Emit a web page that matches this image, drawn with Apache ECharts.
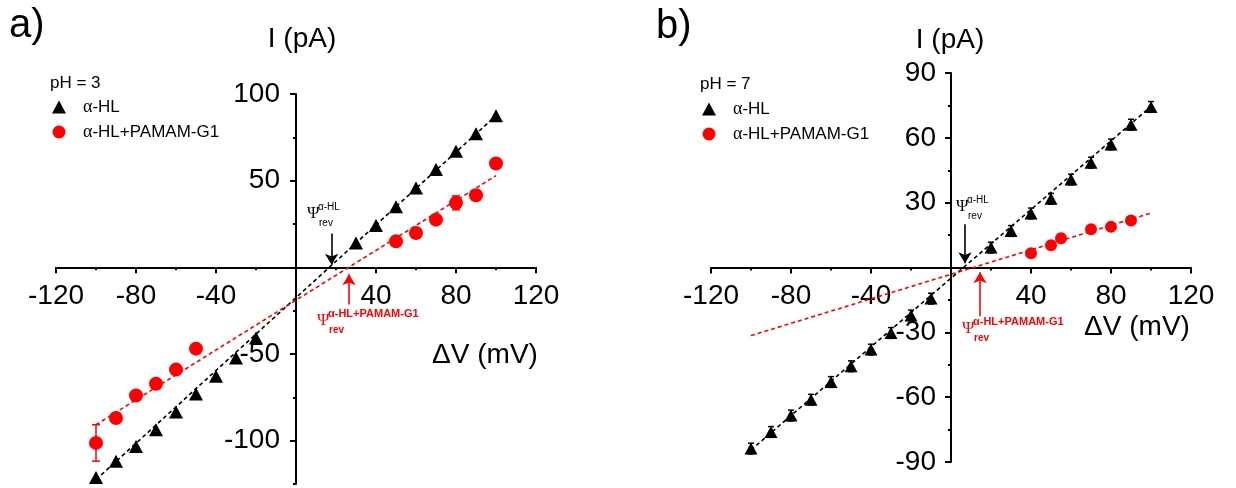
<!DOCTYPE html>
<html>
<head>
<meta charset="utf-8">
<script src="https://cdn.jsdelivr.net/npm/echarts@6/dist/echarts.min.js"></script>
<style>
html, body { margin: 0; padding: 0; background: #fff; }
#chart { width: 1236px; height: 488px; }
</style>
</head>
<body>
<div id="chart"></div>
<script>
// panel a) pH = 3
const vA_hl = [-100, -90, -80, -70, -60, -50, -40, -30, -20, 30, 40, 50, 60, 70, 80, 90, 100];
const iA_hl = [-121.3, -111.9, -103.3, -93.7, -83.4, -73.1, -62.9, -52.3, -40.7, 14.1, 24.2, 34.9, 45.8, 56.4, 66.9, 77.1, 87.5];
const eA_hl = [3, 3, 3, 3, 3, 3, 3, 3, 3, 3, 3, 3, 3, 3, 3, 3, 3];
const vA_pam = [-100, -90, -80, -70, -60, -50, 50, 60, 70, 80, 90, 100];
const iA_pam = [-101.3, -86.9, -73.9, -67.2, -59.0, -46.9, 15.0, 19.8, 27.5, 37.2, 41.6, 59.9];
const eA_pam = [10.5, 2, 2, 2, 2, 2, 2, 2, 2, 4, 2, 2];
const fitA_hl = [[-100, -122.5], [100, 87.5]];
const fitA_pam = [[-100, -90.8], [100, 52.9]];
// reversal potential arrows: [x, from, to]
const arrowA_hl = [17.8, 19.5, 1.5];
const arrowA_pam = [26.5, -21.5, -4];

// panel b) pH = 7
const vB_hl = [-100, -90, -80, -70, -60, -50, -40, -30, -20, -10, 20, 30, 40, 50, 60, 70, 80, 90, 100];
const iB_hl = [-83.8, -76.1, -68.5, -61.2, -53.0, -45.7, -38.0, -30.3, -22.2, -14.4, 9.2, 16.9, 25.0, 31.8, 40.7, 48.5, 56.9, 66.1, 74.3];
const eB_hl = [2.5, 2.5, 2.5, 2.5, 2.5, 2.5, 2.5, 2.5, 2.5, 2.5, 2.5, 2.5, 2.5, 2.5, 2.5, 2.5, 2.5, 2.5, 2.5];
const vB_pam = [40, 50, 55, 70, 80, 90];
const iB_pam = [6.6, 10.3, 13.5, 17.7, 18.8, 21.8];
const eB_pam = [1.5, 1.5, 1.5, 1.5, 1.5, 1.5];
const fitB_hl = [[-100, -84.4], [100, 74.5]];
const fitB_pam = [[-100, -31.5], [100, 25.2]];
const arrowB_hl = [7, 20, 2];
const arrowB_pam = [14.5, -22.5, -2.2];

// axis ranges
const xRange = [-120, 120];
const yRangeA = [-125, 100];
const yRangeB = [-90, 90];

const RED = '#ff0000';
const SANS = 'Liberation Sans, Arial, sans-serif';
const SERIF = 'Liberation Serif, Times New Roman, serif';

const grids = [
    { left: 56, top: 94, width: 480, height: 390 },
    { left: 711, top: 73, width: 480, height: 389 }
];

const chart = echarts.init(document.getElementById('chart'));

function pts(xs, ys) { return xs.map((x, i) => [x, ys[i]]); }
function errPts(xs, ys, es) { return xs.map((x, i) => [x, ys[i], es[i]]); }

// shift an axis from the grid edge to the zero of the other axis
function zeroOffset(range, size) { return -(0 - range[0]) / (range[1] - range[0]) * size; }

function errRender(capW) {
    return function (params, api) {
        const x = api.value(0), y = api.value(1), e = api.value(2);
        const hi = api.coord([x, y + e]);
        const lo = api.coord([x, y - e]);
        const style = { stroke: api.visual('color'), lineWidth: 1.5 };
        const kids = [{ type: 'line', shape: { x1: hi[0], y1: hi[1], x2: lo[0], y2: lo[1] }, style: style }];
        if (capW) {
            kids.push({ type: 'line', shape: { x1: hi[0] - capW / 2, y1: hi[1], x2: hi[0] + capW / 2, y2: hi[1] }, style: style });
            kids.push({ type: 'line', shape: { x1: lo[0] - capW / 2, y1: lo[1], x2: lo[0] + capW / 2, y2: lo[1] }, style: style });
        }
        return { type: 'group', children: kids };
    };
}

function xAxisCfg(grid, yRange) {
    return {
        type: 'value', gridIndex: grid, position: 'bottom', min: xRange[0], max: xRange[1], interval: 40,
        offset: zeroOffset(yRange, grids[grid].height),
        axisLine: { onZero: false, lineStyle: { color: '#000', width: 2 } },
        axisTick: { length: 6, lineStyle: { color: '#000', width: 2 } },
        minorTick: { show: true, splitNumber: 2, length: 3, lineStyle: { color: '#000', width: 2 } },
        splitLine: { show: false },
        axisLabel: { fontSize: 28, fontFamily: SANS, color: '#000', margin: 15, formatter: v => (v === 0 ? '' : String(v)) }
    };
}

function fitSeries(grid, data, color, arrow) {
    return {
        type: 'line', xAxisIndex: grid, yAxisIndex: grid === 0 ? 0 : 2,
        data: data, showSymbol: false, silent: true, z: 1,
        lineStyle: { color: color, width: 1.6, type: [4, 3] },
        markLine: {
            silent: true, symbol: ['none', 'arrow'], symbolSize: [10, 11],
            lineStyle: { color: color, width: 1.6, type: 'solid' },
            label: { show: false },
            data: [[{ coord: [arrow[0], arrow[1]] }, { coord: [arrow[0], arrow[2]] }]]
        }
    };
}

function markers(grid, name, data, symbol, size, color) {
    return {
        name: name, type: 'scatter', xAxisIndex: grid, yAxisIndex: grid === 0 ? 0 : 2,
        data: data, symbol: symbol, symbolSize: size, z: 4,
        itemStyle: { color: color, opacity: 1 }
    };
}

function errSeries(grid, data, color, capW) {
    return {
        type: 'custom', xAxisIndex: grid, yAxisIndex: grid === 0 ? 0 : 2,
        data: data, encode: { x: 0, y: 1 }, z: 3, silent: true,
        itemStyle: { color: color }, renderItem: errRender(capW)
    };
}

function legendCfg(left, top) {
    return {
        left: left, top: top, orient: 'vertical', itemWidth: 14, itemHeight: 13, itemGap: 7,
        selectedMode: false,
        data: [{ name: 'α-HL', icon: 'triangle' }, { name: 'α-HL+PAMAM-G1', icon: 'circle' }],
        formatter: name => name.replace('α', '{g|α}'),
        textStyle: {
            fontSize: 17, fontFamily: SANS, color: '#000', padding: [0, 0, 0, 12],
            rich: { g: { fontSize: 18, fontFamily: SERIF, color: '#000' } }
        }
    };
}

function txt(text, x, y, size, extra) {
    return {
        type: 'text', x: x, y: y, z: 10, silent: true,
        style: Object.assign({ text: text, fontSize: size, fontFamily: SANS, fill: '#000', align: 'left', verticalAlign: 'middle' }, extra || {})
    };
}

function psi(x, y, sup, color, supBold) {
    return [
        txt('Ψ', x, y, 17, { fontFamily: SERIF, fill: color }),
        txt(sup, x + 11, y - 7, supBold ? 11 : 10, { fill: color, fontWeight: supBold ? 'bold' : 'normal' }),
        txt('rev', x + 12, y + 9, 10, { fill: color, fontWeight: supBold ? 'bold' : 'normal' })
    ];
}

const option = {
    animation: false,
    backgroundColor: '#fff',
    grid: grids.map(g => Object.assign({ containLabel: false, outerBoundsMode: 'none' }, g)),
    xAxis: [xAxisCfg(0, yRangeA), xAxisCfg(1, yRangeB)],
    yAxis: [
        {
            type: 'value', gridIndex: 0, position: 'left', min: yRangeA[0], max: yRangeA[1], interval: 25,
            offset: zeroOffset(xRange, grids[0].width),
            axisLine: { onZero: false, lineStyle: { color: '#000', width: 2 } },
            axisTick: { length: 6, customValues: [-100, -50, 0, 50, 100], lineStyle: { color: '#000', width: 2 } },
            splitLine: { show: false },
            axisLabel: { customValues: [-100, -50, 50, 100], fontSize: 28, fontFamily: SANS, color: '#000', margin: 16 }
        },
        {
            // minor ticks of panel a
            type: 'value', gridIndex: 0, position: 'left', min: yRangeA[0], max: yRangeA[1], interval: 25,
            offset: zeroOffset(xRange, grids[0].width),
            axisLine: { show: false, onZero: false },
            axisTick: { length: 3, customValues: [-125, -75, -25, 25, 75], lineStyle: { color: '#000', width: 2 } },
            axisLabel: { show: false },
            splitLine: { show: false }
        },
        {
            type: 'value', gridIndex: 1, position: 'left', min: yRangeB[0], max: yRangeB[1], interval: 30,
            offset: zeroOffset(xRange, grids[1].width),
            axisLine: { onZero: false, lineStyle: { color: '#000', width: 2 } },
            axisTick: { length: 6, lineStyle: { color: '#000', width: 2 } },
            minorTick: { show: true, splitNumber: 2, length: 3, lineStyle: { color: '#000', width: 2 } },
            splitLine: { show: false },
            axisLabel: { fontSize: 28, fontFamily: SANS, color: '#000', margin: 15, formatter: v => (v === 0 ? '' : String(v)) }
        }
    ],
    legend: [legendCfg(47, 93), legendCfg(697, 95)],
    series: [
        fitSeries(0, fitA_hl, '#000', arrowA_hl),
        fitSeries(0, fitA_pam, RED, arrowA_pam),
        errSeries(0, errPts(vA_hl, iA_hl, eA_hl), '#000', 0),
        errSeries(0, errPts(vA_pam, iA_pam, eA_pam), RED, 8),
        markers(0, 'α-HL', pts(vA_hl, iA_hl), 'triangle', [14, 13], '#000'),
        markers(0, 'α-HL+PAMAM-G1', pts(vA_pam, iA_pam), 'circle', 14, RED),

        fitSeries(1, fitB_hl, '#000', arrowB_hl),
        fitSeries(1, fitB_pam, RED, arrowB_pam),
        errSeries(1, errPts(vB_hl, iB_hl, eB_hl), '#000', 6),
        errSeries(1, errPts(vB_pam, iB_pam, eB_pam), RED, 6),
        markers(1, 'α-HL', pts(vB_hl, iB_hl), 'triangle', [13, 12], '#000'),
        markers(1, 'α-HL+PAMAM-G1', pts(vB_pam, iB_pam), 'circle', 12, RED)
    ],
    graphic: [
        txt('a)', 9, 26, 40),
        txt('b)', 656, 27, 40),
        txt('I (pA)', 302, 39, 28, { align: 'center' }),
        txt('I (pA)', 950, 40, 28, { align: 'center' }),
        txt('ΔV (mV)', 485, 355, 28, { align: 'center' }),
        txt('ΔV (mV)', 1137, 327, 28, { align: 'center' }),
        txt('pH = 3', 50, 83, 17),
        txt('pH = 7', 700, 84, 17)
    ]
        .concat(psi(307, 214, 'α-HL', '#000', false))
        .concat(psi(317, 321, 'α-HL+PAMAM-G1', RED, true))
        .concat(psi(956, 207, 'α-HL', '#000', false))
        .concat(psi(962, 329, 'α-HL+PAMAM-G1', RED, true))
};

chart.setOption(option);
</script>
</body>
</html>
